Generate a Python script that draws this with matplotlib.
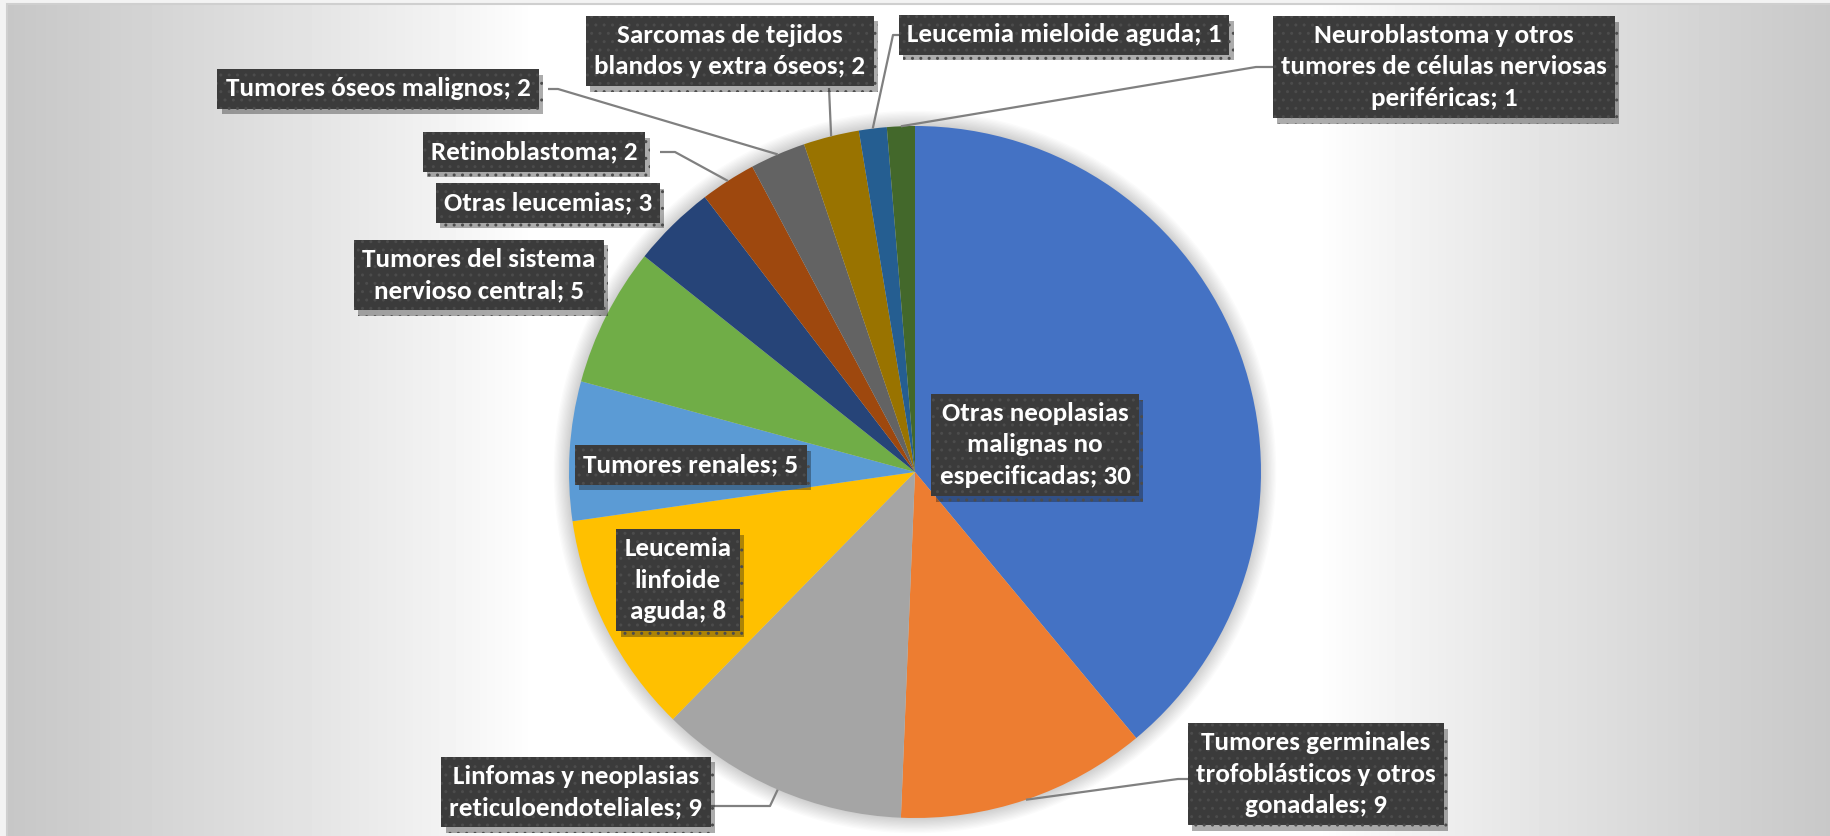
import numpy as np
import matplotlib.pyplot as plt
from matplotlib import patheffects as pe
from matplotlib.patches import Circle, Rectangle

# datos
categorias = [
    "Otras neoplasias\nmalignas no\nespecificadas",
    "Tumores germinales\ntrofoblásticos y otros\ngonadales",
    "Linfomas y neoplasias\nreticuloendoteliales",
    "Leucemia\nlinfoide\naguda",
    "Tumores renales",
    "Tumores del sistema\nnervioso central",
    "Otras leucemias",
    "Retinoblastoma",
    "Tumores óseos malignos",
    "Sarcomas de tejidos\nblandos y extra óseos",
    "Leucemia mieloide aguda",
    "Neuroblastoma y otros\ntumores de células nerviosas\nperiféricas",
]
valores = [30, 9, 9, 8, 5, 5, 3, 2, 2, 2, 1, 1]
colores = ['#4472C4', '#ED7D31', '#A5A5A5', '#FFC000', '#5B9BD5', '#70AD47',
           '#264478', '#9E480E', '#636363', '#997300', '#255E91', '#43682B']

W, H = 1831, 836
FONT = ['Carlito', 'Lato', 'DejaVu Sans']

# posicion de cada etiqueta (px de imagen): centro, punto de union, codo
etiquetas = [
    ((1035, 445), None, None),
    ((1316, 774), (1190, 779), (1178, 779)),
    ((576, 792), (708, 806), (770, 806)),
    ((678, 580), None, None),
    ((691, 465), None, None),
    ((479, 275), None, None),
    ((548, 203), None, None),
    ((534, 152), (660, 152), (675, 152)),
    ((378, 89), (548, 89), (558, 89)),
    ((730, 51), (829, 88), (829, 88)),
    ((1064, 35), (900, 35), (893, 35)),
    ((1444, 67), (1274, 67), (1256, 67)),
]

fig = plt.figure(figsize=(W / 100, H / 100), dpi=100)
ax = fig.add_axes([0, 0, 1, 1])

# fondo: degradado horizontal, blanco en el centro
yy, xx = np.mgrid[0:H, 0:W]
t = np.abs(xx - 925) / 915
bg = 1 - 0.22 * np.clip((t - 0.43) / 0.57, 0, 1) ** 0.85
bg[(xx < 7) | (yy < 4)] = 0.95
ax.imshow(bg, cmap='gray', vmin=0, vmax=1, extent=(0, W, 0, H), zorder=0)
ax.add_patch(Rectangle((7, -10), W + 20, H - 4 + 10, fill=False, ec='#cfcfcf', lw=1.5, zorder=1))

cx, cy, r = 915, H - 472, 346
# sombra suave del circulo
for k in range(12):
    ax.add_patch(Circle((cx, cy), r + 1 + k * 1.3, color='black', alpha=0.014, lw=0, zorder=1))

wedges, _ = ax.pie(valores, colors=colores, startangle=90, counterclock=False,
                   center=(cx, cy), radius=r, wedgeprops=dict(linewidth=0))
for w in wedges:
    w.set_zorder(2)

for w, cat, val, (centro, union, codo) in zip(wedges, categorias, valores, etiquetas):
    txt = ax.text(centro[0], H - centro[1], f"{cat}; {val}", ha='center', va='center',
                  color='white', fontsize=19.5, fontweight='bold', family=FONT, linespacing=1.44,
                  zorder=6,
                  bbox=dict(boxstyle='square,pad=0.3', fc='#3b3b3b', ec='#4c4c4c', lw=0, hatch='..'))
    txt.get_bbox_patch().set_path_effects([pe.SimplePatchShadow(offset=(3, -4), alpha=0.35), pe.Normal()])
    if union is not None:
        ang = np.deg2rad((w.theta1 + w.theta2) / 2)
        ax_, ay_ = cx + r * np.cos(ang), cy + r * np.sin(ang)
        ax.plot([union[0], codo[0], ax_], [H - union[1], H - codo[1], ay_],
                color='#808080', lw=1.6, zorder=4, solid_capstyle='butt')

ax.set_xlim(0, W)
ax.set_ylim(0, H)
ax.set_aspect('equal')
ax.axis('off')

fig.savefig('out.png', dpi=100)
